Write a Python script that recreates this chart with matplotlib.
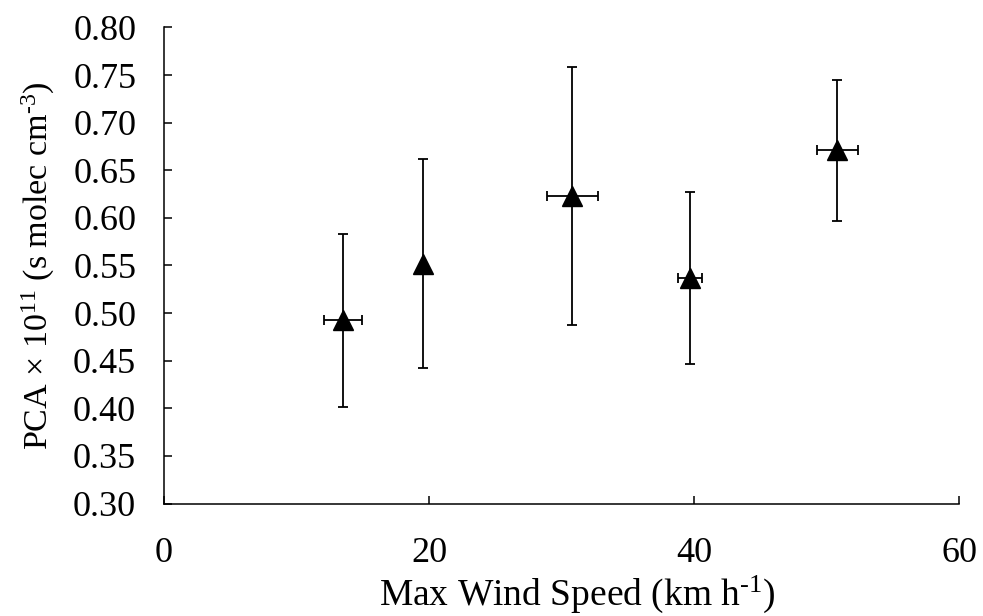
import matplotlib
matplotlib.use("Agg")
import matplotlib.pyplot as plt

# values
wind_speed = [13.5, 19.55, 30.8, 39.7, 50.8]
wind_err = [1.43, 0.0, 1.92, 0.87, 1.55]
pca = [0.4925, 0.552, 0.623, 0.537, 0.671]
pca_err = [0.091, 0.110, 0.135, 0.090, 0.074]

x_ticks = [0, 20, 40, 60]
y_ticks = [0.30, 0.35, 0.40, 0.45, 0.50, 0.55, 0.60, 0.65, 0.70, 0.75, 0.80]

plt.rcParams.update(
    {
        "font.family": ["Liberation Serif", "DejaVu Serif"],
        "mathtext.default": "regular",
        "font.size": 26,
    }
)

fig = plt.figure(figsize=(9.83, 6.16), dpi=100)
ax = fig.add_axes([0.1668, 0.1826, 0.8088, 0.7728])

ax.errorbar(
    wind_speed,
    pca,
    xerr=wind_err,
    yerr=pca_err,
    fmt="^",
    color="black",
    ecolor="black",
    elinewidth=1.3,
    capsize=3.5,
    capthick=1.3,
    markersize=14,
)

ax.set_xlim(0, 60)
ax.set_ylim(0.30, 0.80)
ax.set_xticks(x_ticks)
ax.set_yticks(y_ticks)
ax.set_yticklabels([f"{v:.2f}" for v in y_ticks])
for side in ("top", "right"):
    ax.spines[side].set_visible(False)
for side in ("left", "bottom"):
    ax.spines[side].set_linewidth(1.1)
ax.tick_params(direction="in", length=6, width=1.1, labelsize=26)
ax.tick_params(axis="x", pad=24)
ax.tick_params(axis="y", pad=20)

ax.set_xlabel("Max Wind Speed (km h$^{\u20101}$)", fontsize=27)
ax.xaxis.set_label_coords(0.52, -0.147)
ax.set_ylabel("PCA × 10$^{11}$ (s molec cm$^{\u20103}$)", fontsize=24.5)
ax.yaxis.set_label_coords(-0.135, 0.5)

fig.savefig("out.png", dpi=100)
